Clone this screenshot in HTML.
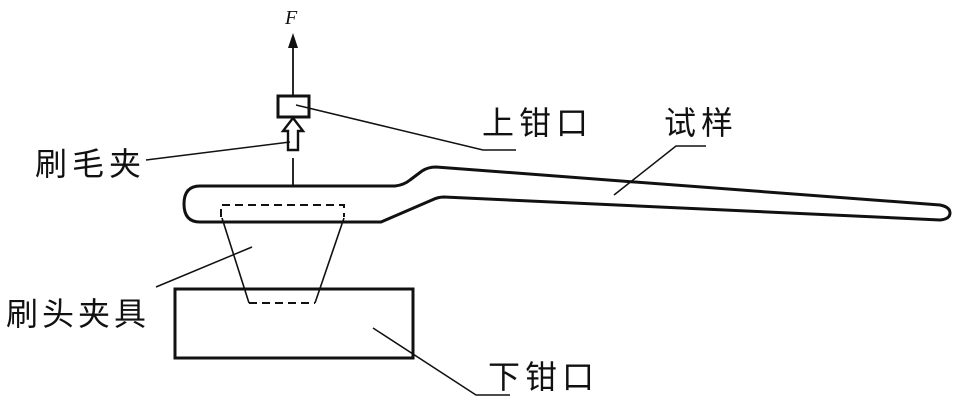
<!DOCTYPE html>
<html><head><meta charset="utf-8"><style>
html,body{margin:0;padding:0;background:#fff;}
svg{display:block;}
text{font-family:"Liberation Sans","Noto Sans CJK SC",sans-serif;font-size:32px;fill:#111;}
</style></head><body>
<svg width="959" height="404" viewBox="0 0 959 404" xmlns="http://www.w3.org/2000/svg">
<g fill="none" stroke="#111">
<!-- toothbrush outline -->
<path d="M200,186 L395,186 Q404,185 410,180 L422,171 Q428,167 436,167 L940,205 Q950,207 950,213 Q950,219 940,220 L444,197 Q438,197 432,200 L381,222 L200,222 Q184,222 184,204 Q184,186 200,186 Z" stroke-width="3" stroke-linejoin="round"/>
<!-- dashed clamp -->
<path d="M221,217 L221,205 L344,205 L344,217" stroke-width="2" stroke-dasharray="8,5"/>
<line x1="249" y1="303" x2="315" y2="303" stroke-width="2" stroke-dasharray="8,5"/>
<line x1="222" y1="218" x2="249" y2="303" stroke-width="1.6"/>
<line x1="344" y1="218" x2="315" y2="303" stroke-width="1.6"/>
<!-- lower box -->
<rect x="175" y="289" width="238" height="69" stroke-width="3"/>
<!-- upper clamp box -->
<rect x="278" y="96" width="31" height="21" stroke-width="3"/>
<!-- F arrow shaft -->
<line x1="293" y1="46" x2="293" y2="96" stroke-width="1.8"/>
<!-- hollow arrow -->
<path d="M293,118 L303,131 L298,131 L298,150 L288,150 L288,131 L283,131 Z" stroke-width="2.4" stroke-linejoin="miter"/>
<line x1="293" y1="158" x2="293" y2="186" stroke-width="1.8"/>
<!-- leaders -->
<polyline points="296,105 483,150 516,150" stroke-width="1.5"/>
<line x1="146" y1="160" x2="290" y2="142" stroke-width="1.5"/>
<polyline points="614,195 676,146 706,146" stroke-width="1.5"/>
<line x1="156" y1="287" x2="252" y2="247" stroke-width="1.5"/>
<polyline points="373,328 476,395 510,395" stroke-width="1.5"/>
</g>
<path d="M293,33 L288,48 L298,48 Z" fill="#111"/>
<text x="285" y="24" style="font-family:'Liberation Serif',serif;font-style:italic;font-size:20px">F</text>
<text x="482" y="134" letter-spacing="5">上钳口</text>
<text x="664" y="134" letter-spacing="5">试样</text>
<text x="35" y="175" letter-spacing="5">刷毛夹</text>
<text x="6" y="325" letter-spacing="4">刷头夹具</text>
<text x="488" y="388" letter-spacing="5">下钳口</text>
</svg>
</body></html>
